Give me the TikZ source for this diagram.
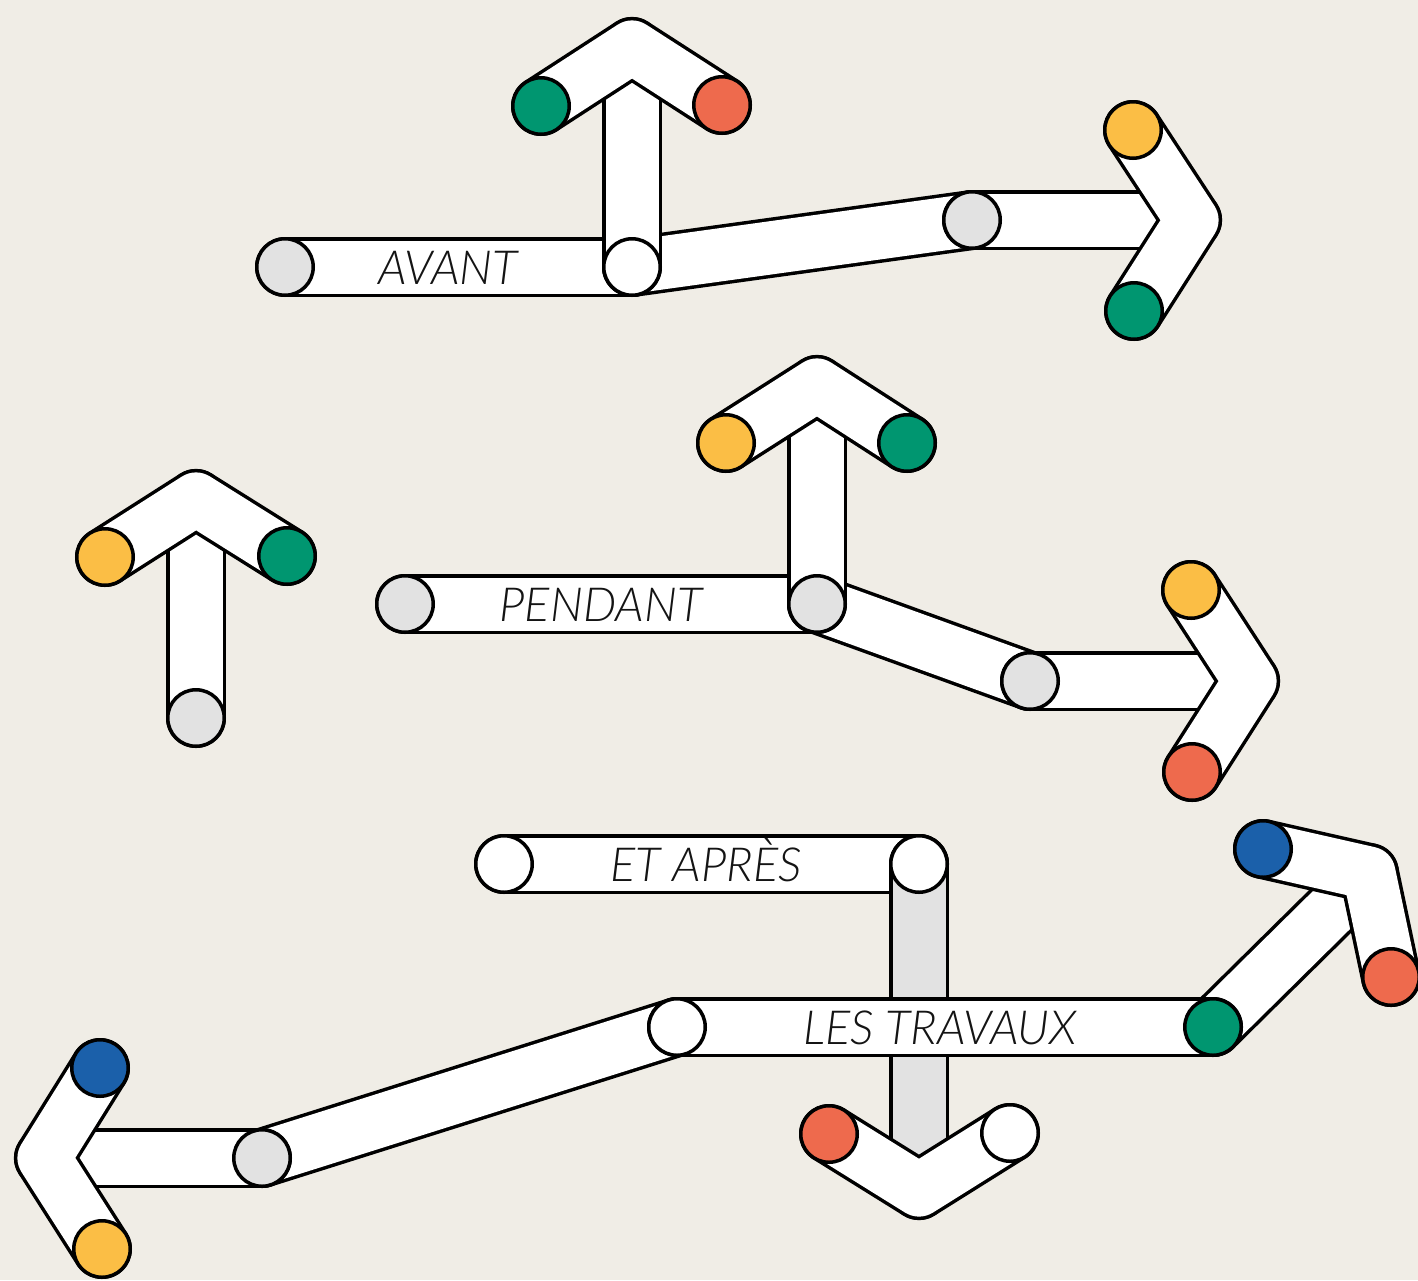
\documentclass[tikz,border=0pt]{standalone}
\usepackage{fontspec}
\setmainfont{Lato}[UprightFont=* Light, ItalicFont=* Light Italic]
\pgfdeclarelayer{pipes}
\pgfsetlayers{pipes,main}
\definecolor{paper}{HTML}{F0EDE6}
\definecolor{cgreen}{HTML}{009670}
\definecolor{corange}{HTML}{EE6A4D}
\definecolor{cyellow}{HTML}{FBBE45}
\definecolor{cblue}{HTML}{1B60AA}
\definecolor{cgrey}{HTML}{E2E2E2}
\tikzset{
  pipe/.style={draw=black, line width=60pt, line cap=round, line join=round,
    postaction={draw=#1, line width=53pt}},
  pipe/.default=white,
  lid/.style={circle, draw=black, line width=3.5pt, minimum size=56.5pt, inner sep=0pt, fill=#1},
  lid/.default=white,
  word/.style={font=\fontsize{47}{55}\selectfont\itshape, text=black!92, anchor=base, inner sep=0pt}
}
\begin{document}
\begin{tikzpicture}[x=1pt, y=-1pt]
    \useasboundingbox (0,0) rectangle (1418,1280);

    % avant
    \node[lid=cgrey] (av-in) at (285,267) {};
    \node[lid] (av-knee) at (632,267) {};
    \node[lid=cgreen] (av-up-l) at (541,106) {};
    \node[lid=corange] (av-up-r) at (722,105) {};
    \coordinate (av-up-tip) at (632,47);
    \node[lid=cgrey] (av-mid) at (972,220) {};
    \node[lid=cyellow] (av-rt-t) at (1133,130) {};
    \node[lid=cgreen] (av-rt-b) at (1134,311) {};
    \coordinate (av-rt-tip) at (1192,220);
    \node[word] (av-word) at (448,284) {AVANT};

    % pendant
    \node[lid=cgrey] (pe-solo) at (196,718) {};
    \node[lid=cyellow] (pe-solo-l) at (105,557) {};
    \node[lid=cgreen] (pe-solo-r) at (287,556) {};
    \coordinate (pe-solo-tip) at (196,499);
    \node[lid=cgrey] (pe-in) at (405,604) {};
    \node[lid=cgrey] (pe-knee) at (817,604) {};
    \node[lid=cyellow] (pe-up-l) at (726,443) {};
    \node[lid=cgreen] (pe-up-r) at (907,443) {};
    \coordinate (pe-up-tip) at (817,385);
    \node[lid=cgrey] (pe-mid) at (1030,681) {};
    \node[lid=cyellow] (pe-rt-t) at (1191,590) {};
    \node[lid=corange] (pe-rt-b) at (1192,772) {};
    \coordinate (pe-rt-tip) at (1250,681);
    \node[word] (pe-word) at (601,621) {PENDANT};

    % et apres / les travaux
    \node[lid] (ap-in) at (504,864) {};
    \node[lid] (ap-knee) at (919,864) {};
    \node[lid=corange] (ap-dn-l) at (829,1134) {};
    \node[lid] (ap-dn-r) at (1010,1133) {};
    \coordinate (ap-dn-tip) at (919,1190);
    \node[word] (ap-word) at (706,881) {ET APRÈS};
    \node[lid] (tr-in) at (677,1027) {};
    \node[lid=cgreen] (tr-out) at (1213,1027) {};
    \node[lid=cgrey] (tr-mid) at (262,1158) {};
    \node[lid=cblue] (tr-lf-t) at (100,1068) {};
    \node[lid=cyellow] (tr-lf-b) at (102,1249) {};
    \coordinate (tr-lf-tip) at (44,1158);
    \node[lid=cblue] (tr-ur-l) at (1263,849) {};
    \node[lid=corange] (tr-ur-r) at (1391,977) {};
    \coordinate (tr-ur-tip) at (1369,873);
    \node[word] (tr-word) at (940,1044) {LES TRAVAUX};

    \begin{pgfonlayer}{pipes}
        \fill[paper] (0,0) rectangle (1418,1280);
        % avant
        \draw[pipe] (av-in.center) -- (av-knee.center);
        \draw[pipe] (av-knee.center) -- (av-mid.center);
        \draw[pipe] (av-mid.center) -- (av-rt-tip);
        \draw[pipe] (av-knee.center) -- (av-up-tip);
        \draw[pipe] (av-up-l.center) -- (av-up-tip) -- (av-up-r.center);
        \draw[pipe] (av-rt-t.center) -- (av-rt-tip) -- (av-rt-b.center);
        % pendant
        \draw[pipe] (pe-solo.center) -- (pe-solo-tip);
        \draw[pipe] (pe-solo-l.center) -- (pe-solo-tip) -- (pe-solo-r.center);
        \draw[pipe] (pe-in.center) -- (pe-knee.center);
        \draw[pipe] (pe-knee.center) -- (pe-mid.center);
        \draw[pipe] (pe-mid.center) -- (pe-rt-tip);
        \draw[pipe] (pe-knee.center) -- (pe-up-tip);
        \draw[pipe] (pe-up-l.center) -- (pe-up-tip) -- (pe-up-r.center);
        \draw[pipe] (pe-rt-t.center) -- (pe-rt-tip) -- (pe-rt-b.center);
        % et apres / les travaux
        \draw[pipe] (ap-in.center) -- (ap-knee.center);
        \draw[pipe=cgrey] (ap-knee.center) -- (ap-dn-tip);
        \draw[pipe] (tr-in.center) -- (tr-mid.center);
        \draw[pipe] (tr-mid.center) -- (tr-lf-tip);
        \draw[pipe] (tr-lf-t.center) -- (tr-lf-tip) -- (tr-lf-b.center);
        \draw[pipe] (tr-out.center) -- (tr-ur-tip);
        \draw[pipe] (tr-ur-l.center) -- (tr-ur-tip) -- (tr-ur-r.center);
        \draw[pipe] (tr-in.center) -- (tr-out.center);
        \draw[pipe] (ap-dn-l.center) -- (ap-dn-tip) -- (ap-dn-r.center);
    \end{pgfonlayer}
\end{tikzpicture}
\end{document}
